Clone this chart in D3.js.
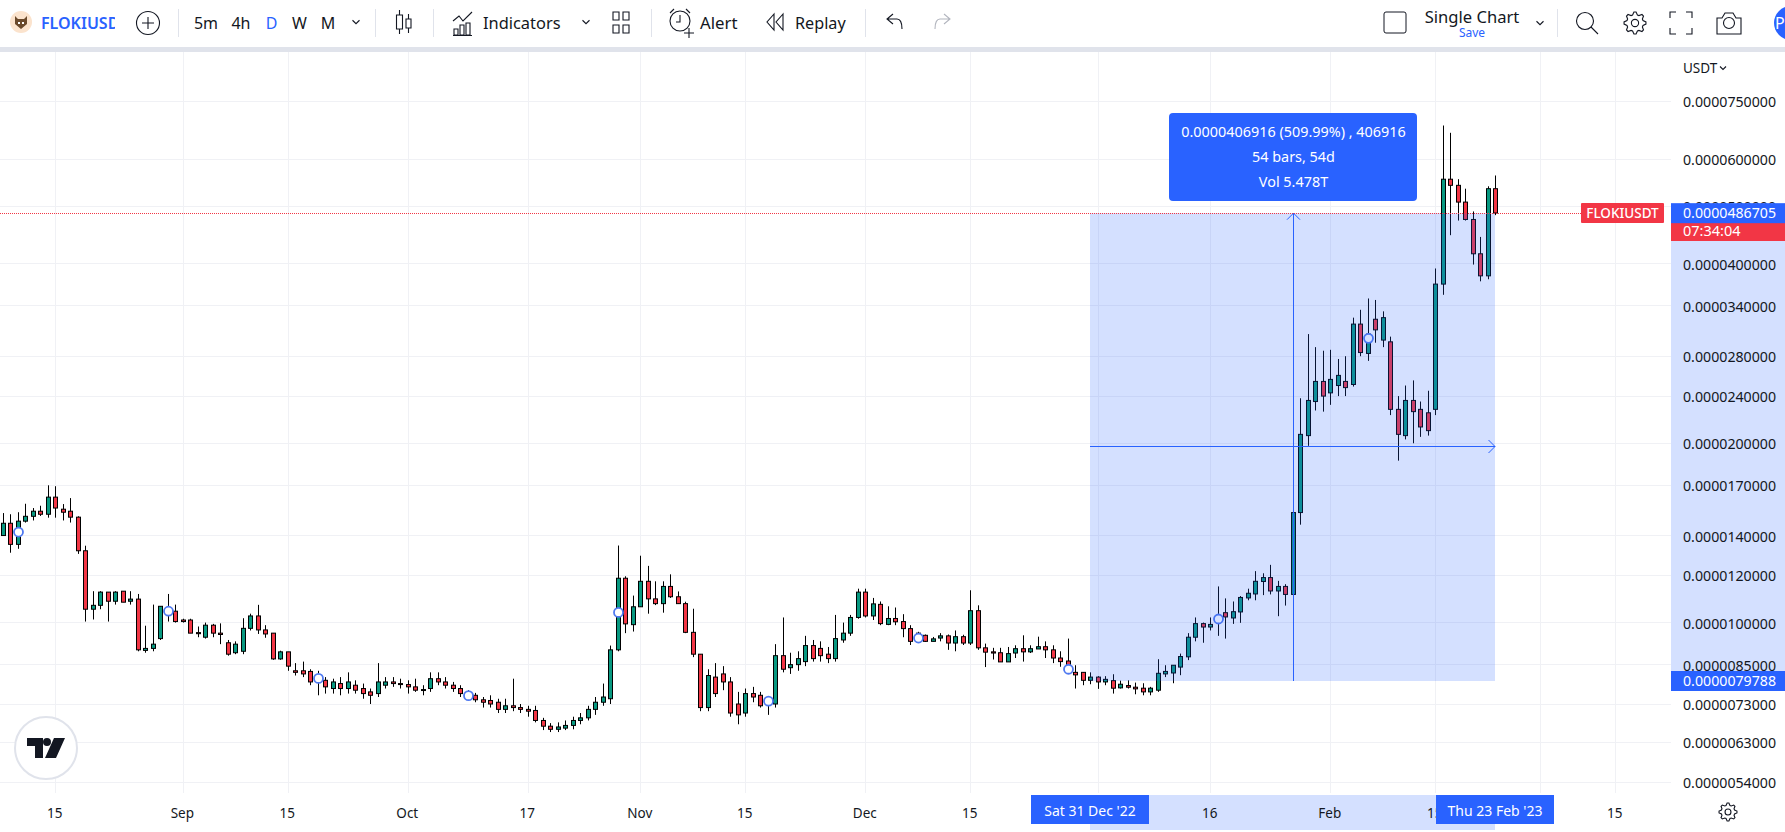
<!DOCTYPE html>
<html>
<head>
<meta charset="utf-8">
<title>FLOKIUSDT</title>
<script src="https://cdn.jsdelivr.net/npm/d3@7"></script>
<style>
  html, body { margin: 0; padding: 0; background: #fff; overflow: hidden; }
  svg { display: block; font-family: "Noto Sans", sans-serif; }
</style>
</head>
<body>
<svg id="chart" width="1785" height="832"></svg>
<script>
// prices are in millionths of USDT, the axis prints them back as 0.00000...
var unit = 1e-6;

var firstBar = new Date(Date.UTC(2022, 7, 8));
var lastBar = new Date(Date.UTC(2023, 1, 23));

var opens = [
  14.0,14.68,13.53,14.8,15.08,15.38,15.2,16.24,15.5,15.38,
  15.03,13.2,10.53,10.69,11.25,10.86,11.29,10.86,10.95,8.98,
  9.05,9.4,10.3,10.45,10.1,10.1,9.62,9.45,9.9,9.6,
  9.25,8.9,8.95,9.78,10.26,9.72,9.6,8.69,8.93,8.3,
  8.3,8.28,8.05,8.0,7.75,7.9,7.75,7.85,7.75,7.65,
  7.6,7.85,7.95,7.9,7.87,7.8,7.7,7.75,8.05,7.95,
  7.85,7.75,7.6,7.55,7.42,7.4,7.35,7.15,7.25,7.2,
  7.15,7.12,6.85,6.7,6.62,6.65,6.72,6.85,6.92,7.15,
  7.35,7.45,9.0,11.87,9.92,10.63,11.73,10.96,10.76,11.5,
  11.05,10.76,9.63,8.85,7.2,8.1,8.2,7.95,7.3,7.05,
  7.6,7.55,7.3,7.3,8.8,8.4,8.5,8.6,9.15,9.05,
  8.85,8.7,9.35,9.6,10.2,11.25,10.26,10.73,9.93,10.16,
  10.04,9.77,9.6,9.52,9.3,9.42,9.5,9.24,9.47,9.24,
  10.47,9.07,8.93,8.9,8.59,8.89,9.04,8.93,9.03,9.11,
  9.0,8.72,8.62,8.25,8.25,8.0,8.1,7.95,7.99,7.77,
  7.84,7.79,7.76,7.65,7.7,8.2,8.23,8.42,8.76,9.45,
  9.96,9.83,10.05,10.39,10.18,10.42,11.0,11.17,11.72,11.9,
  11.3,11.5,11.15,15.3,20.6,23.5,25.4,24.3,25.0,25.4,
  25.1,31.7,28.3,32.3,29.8,29.6,22.8,20.6,23.6,22.8,
  22.5,22.8,37,55.5,54.2,50.8,47.5,41.6,38.2,53.5
];
var highs = [
  15.27,15.2,15.32,15.83,15.57,15.71,17.0,16.94,15.81,16.18,
  15.08,13.46,11.29,11.29,11.25,11.29,11.29,11.29,11.17,9.88,
  10.72,10.65,11.17,10.72,10.15,10.15,9.85,10.0,9.95,9.97,
  9.35,9.3,10.17,10.35,10.71,9.9,9.6,8.97,8.93,8.55,
  8.6,8.35,8.3,8.1,8.05,8.1,8.25,8.0,7.9,7.75,
  8.55,8.1,8.1,8.05,8.0,8.05,7.85,8.25,8.25,8.1,
  7.95,7.85,7.7,7.62,7.5,7.55,7.45,7.45,8.05,7.3,
  7.25,7.25,6.92,6.78,6.8,6.85,6.95,7.05,7.25,7.5,
  7.9,9.15,13.47,11.96,11.1,12.95,12.45,11.73,11.73,12.05,
  11.28,10.84,10.55,8.85,8.35,8.55,8.45,8.1,7.65,7.75,
  7.8,7.65,7.5,9.2,10.2,8.9,8.95,9.5,9.35,9.3,
  9.1,10.3,10.0,10.3,11.4,11.4,11.0,10.85,10.65,10.6,
  10.33,9.9,9.65,9.55,9.46,9.6,9.55,9.7,9.54,11.33,
  10.69,9.22,9.07,9.07,9.1,9.16,9.52,9.16,9.47,9.3,
  9.16,8.95,9.4,8.48,8.25,8.25,8.13,8.13,8.19,7.99,
  8.0,7.93,7.91,7.8,8.68,8.48,8.48,8.87,9.6,10.2,
  10.0,10.2,11.5,10.98,10.85,11.08,11.4,12.2,12.1,12.5,
  11.75,11.6,15.4,23.8,30.5,29,28.6,28.7,27.7,28,
  32.5,33.5,35,34.8,33.3,30.2,24,25,25.5,23.5,
  24.5,39.3,68.3,66.4,55.5,53.5,49,44.4,54,56.3
];
var lows = [
  13.98,13.1,13.3,14.72,14.84,15.1,15.0,15.0,14.84,14.72,
  13.04,10.04,10.12,10.53,10.04,10.72,10.82,10.72,8.95,8.9,
  8.95,9.35,10.04,10.0,10.0,9.6,9.45,9.4,9.45,9.2,
  8.8,8.85,8.85,9.7,9.57,9.43,8.66,8.66,8.3,8.15,
  8.1,7.85,7.55,7.6,7.6,7.55,7.6,7.6,7.45,7.3,
  7.5,7.75,7.8,7.75,7.6,7.65,7.55,7.65,7.85,7.75,
  7.65,7.5,7.45,7.35,7.2,7.2,7.05,7.05,7.1,7.05,
  6.95,6.8,6.6,6.55,6.55,6.6,6.62,6.75,6.85,7.0,
  7.25,7.3,8.95,9.6,9.66,10.63,10.35,10.7,10.39,11.0,
  10.76,9.6,8.75,7.1,7.1,7.5,7.7,6.95,6.75,6.95,
  7.35,7.2,7.0,7.2,8.25,8.2,8.3,8.45,8.6,8.6,
  8.55,8.6,9.25,9.5,10.15,10.2,10.1,9.9,9.9,9.9,
  9.45,9.17,9.3,9.28,9.3,9.3,9.0,8.95,9.17,9.17,
  9.0,8.42,8.67,8.59,8.59,8.72,8.6,8.89,9.03,8.72,
  8.55,8.43,8.2,7.75,7.85,7.88,7.74,7.85,7.6,7.75,
  7.75,7.58,7.55,7.55,7.65,8.1,7.91,8.16,8.65,9.3,
  9.25,9.7,9.5,9.4,9.95,9.99,10.9,10.9,11.12,11.15,
  10.25,10.68,11.1,14.6,19.8,22.7,22.6,23.2,24,24,
  24.9,28,27.5,29.5,29,22.3,18.7,20.3,20,20.5,
  20.6,22.3,35.5,44.7,47.3,47.3,39.9,37.4,37.7,48.3
];
var closes = [
  14.68,13.53,14.8,15.08,15.38,15.2,16.24,15.57,15.32,15.03,
  13.2,10.53,10.69,11.25,10.86,11.25,10.82,10.95,9.0,9.05,
  9.2,10.65,10.45,10.04,10.04,9.6,9.58,9.9,9.6,9.55,
  8.85,9.2,9.78,10.26,9.72,9.57,8.69,8.93,8.45,8.25,
  8.2,7.95,8.15,7.8,7.95,7.75,7.95,7.7,7.6,7.55,
  7.95,7.95,7.9,7.87,7.8,7.7,7.72,8.05,7.95,7.85,
  7.75,7.6,7.55,7.42,7.35,7.3,7.15,7.25,7.2,7.15,
  7.1,6.85,6.7,6.62,6.68,6.72,6.85,6.92,7.15,7.35,
  7.5,9.0,11.87,9.95,10.63,11.73,10.96,10.76,11.5,11.05,
  10.76,9.63,8.85,7.2,8.15,7.6,7.95,7.05,7.0,7.6,
  7.5,7.25,7.35,8.8,8.35,8.5,8.7,9.15,8.7,8.8,
  8.7,9.4,9.6,10.2,11.25,10.26,10.75,9.96,10.16,10.03,
  9.77,9.3,9.4,9.3,9.39,9.5,9.24,9.47,9.24,10.47,
  9.07,8.92,8.89,8.59,8.87,9.04,8.93,9.04,9.11,9.0,
  8.72,8.6,8.35,8.17,8.0,8.1,7.95,8.03,7.76,7.88,
  7.79,7.74,7.65,7.76,8.22,8.28,8.48,8.77,9.45,9.96,
  9.83,9.93,10.2,10.22,10.43,11.02,11.2,11.73,11.9,11.3,
  11.5,11.15,15.3,20.7,23.6,25.4,24.0,25.6,26.0,24.8,
  31.7,28.4,30.5,31.0,32.5,22.8,20.7,23.6,22.6,21.3,
  21.0,37,55.5,54.2,50.8,47.5,41.6,38.2,53.5,48.7
];

// hollow circles that sit on every 20th bar
var markerBars = [2,22,42,62,82,102,122,142,162,182];
var markerPrices = [14.19,10.45,8.06,7.54,10.4,7.38,9.42,8.35,10.14,30.0];

var priceTicks = [75,60,50,40,34,28,24,20,17,14,12,10,8.5,7.3,6.3,5.4];

// Jan and Mar have a grid line but the range labels cover their text
var timeTicks = [
  ["2022-08-15","15"],["2022-09-01","Sep"],["2022-09-15","15"],["2022-10-01","Oct"],
  ["2022-10-17","17"],["2022-11-01","Nov"],["2022-11-15","15"],["2022-12-01","Dec"],
  ["2022-12-15","15"],["2023-01-01",""],["2023-01-16","16"],["2023-02-01","Feb"],
  ["2023-02-15","15"],["2023-03-01",""],["2023-03-11","15"]
];

var lastPrice = 48.6705;
var rangeLow = 7.9788;
var rangeStartLabel = "Sat 31 Dec '22";
var rangeEndLabel = "Thu 23 Feb '23";
var rangeStart = new Date(Date.UTC(2022, 11, 31));
var rangeLines = ["0.0000406916 (509.99%) , 406916", "54 bars, 54d", "Vol 5.478T"];

var w = 1785, h = 832;
var paneRight = 1671, paneTop = 52, paneBottom = 793;
var ink = "#131722", blue = "#2962ff", redC = "#f23645", greenC = "#089981", gridC = "#f0f1f5";
var tint = "rgba(41,98,255,0.2)";

var svg = d3.select("#chart");
var dates = d3.utcDay.range(firstBar, d3.utcDay.offset(lastBar, 1));
var tickDate = d3.utcParse("%Y-%m-%d");

var xScale = d3.scaleUtc().domain([firstBar, lastBar]).range([3.3, 1495.8]);
var yScale = d3.scaleLog().domain([75, 5.4]).range([101.3, 782]);
var px = v => Math.floor(v) + 0.5;

svg.append("rect").attr("width", w).attr("height", h).attr("fill", "#fff");

// ---- grid, drawn with the axis generators
var gridX = svg.append("g").attr("transform", "translate(0," + paneBottom + ")")
  .call(d3.axisBottom(xScale).tickValues(timeTicks.map(d => tickDate(d[0]))).tickSize(-(paneBottom - paneTop)).tickFormat(""));
var gridY = svg.append("g").attr("transform", "translate(" + paneRight + ",0)")
  .call(d3.axisLeft(yScale).tickValues(priceTicks).tickSize(paneRight).tickFormat(""));
[gridX, gridY].forEach(g => {
  g.select(".domain").remove();
  g.selectAll("line").attr("stroke", gridC);
});
gridX.selectAll(".tick").attr("transform", function(d) { return "translate(" + px(xScale(d)) + ",0)"; });
gridY.selectAll(".tick").attr("transform", function(d) { return "translate(0," + px(yScale(d)) + ")"; });

// ---- candles
var candles = svg.append("g").selectAll("g").data(dates).enter().append("g");
candles.append("line")
  .attr("x1", (d) => px(xScale(d)))
  .attr("x2", (d) => px(xScale(d)))
  .attr("y1", (d, i) => yScale(highs[i]))
  .attr("y2", (d, i) => yScale(lows[i]))
  .attr("stroke", "#000");
candles.append("rect")
  .attr("x", (d) => px(xScale(d)) - 2)
  .attr("width", 4)
  .attr("y", (d, i) => yScale(Math.max(opens[i], closes[i])))
  .attr("height", (d, i) => Math.max(1, yScale(Math.min(opens[i], closes[i])) - yScale(Math.max(opens[i], closes[i]))))
  .attr("fill", (d, i) => closes[i] >= opens[i] ? greenC : redC)
  .attr("stroke", "#000");

// ---- markers
svg.append("g").selectAll("circle").data(markerBars).enter().append("circle")
  .attr("cx", d => px(xScale(dates[d])))
  .attr("cy", (d, i) => yScale(markerPrices[i]))
  .attr("r", 4.5)
  .attr("fill", "#fff")
  .attr("stroke", "#4f79f0")
  .attr("stroke-width", 1.8);

// ---- measure tool
var mx0 = Math.floor(xScale(rangeStart)), mx1 = Math.floor(xScale(lastBar));
var my0 = yScale(lastPrice), my1 = yScale(rangeLow);
var mxMid = px(xScale(dates[172])), myMid = px(yScale(Math.sqrt(lastPrice * rangeLow))) - 1;

svg.append("rect").attr("x", mx0).attr("y", my0).attr("width", mx1 - mx0).attr("height", my1 - my0).attr("fill", tint);

var measure = svg.append("g").attr("fill", "none").attr("stroke", blue);
measure.append("line").attr("x1", mxMid).attr("x2", mxMid).attr("y1", my1).attr("y2", my0);
measure.append("path").attr("d", "M" + (mxMid - 6.5) + "," + (my0 + 6.5) + "L" + mxMid + "," + my0 + "L" + (mxMid + 6.5) + "," + (my0 + 6.5));
measure.append("line").attr("x1", mx0).attr("x2", mx1).attr("y1", myMid).attr("y2", myMid);
measure.append("path").attr("d", "M" + (mx1 - 6.5) + "," + (myMid - 6.5) + "L" + mx1 + "," + myMid + "L" + (mx1 - 6.5) + "," + (myMid + 6.5));

// last price dotted line
svg.append("line").attr("x1", 0).attr("x2", 1581).attr("y1", px(my0)).attr("y2", px(my0))
  .attr("stroke", redC).attr("stroke-dasharray", "1 1");

// measure text box
svg.append("rect").attr("x", 1169).attr("y", 113).attr("width", 248).attr("height", 88).attr("rx", 4).attr("fill", blue);
svg.append("g").selectAll("text").data(rangeLines).enter().append("text")
  .attr("x", mxMid).attr("y", (d, i) => 137 + i * 25)
  .attr("text-anchor", "middle").attr("fill", "#fff").attr("font-size", 14.4)
  .text(d => d);

// ---- price axis
svg.append("rect").attr("x", paneRight).attr("y", my0).attr("width", w - paneRight).attr("height", my1 - my0).attr("fill", tint);

var yAxis = svg.append("g").attr("transform", "translate(" + paneRight + ",1)")
  .call(d3.axisRight(yScale).tickValues(priceTicks).tickSize(0).tickPadding(12).tickFormat(d => (d * unit).toFixed(10)));
yAxis.select(".domain").remove();
yAxis.selectAll("text").attr("fill", ink).attr("font-size", 14.2).attr("font-family", "Noto Sans");

svg.append("text").attr("x", 1683).attr("y", 73).attr("fill", ink).attr("font-size", 13.5).text("USDT");
chevron(1723, 68, 3, ink);

// ---- labels on the price axis
svg.append("rect").attr("x", 1581).attr("y", 203).attr("width", 83).attr("height", 20).attr("rx", 1).attr("fill", redC);
svg.append("text").attr("x", 1622.5).attr("y", 218).attr("text-anchor", "middle").attr("fill", "#fff")
  .attr("font-size", 13.5).attr("font-weight", 500).text("FLOKIUSDT");
svg.append("rect").attr("x", paneRight).attr("y", 222).attr("width", w - paneRight).attr("height", 19).attr("fill", redC);
svg.append("text").attr("x", 1683).attr("y", 236).attr("fill", "#fff").attr("font-size", 14.5).text("07:34:04");
axisTag(my0, (lastPrice * unit).toFixed(10));
axisTag(my1, (rangeLow * unit).toFixed(10));

function axisTag(y, label) {
  svg.append("rect").attr("x", paneRight).attr("y", y - 10).attr("width", w - paneRight).attr("height", 20).attr("fill", blue);
  svg.append("text").attr("x", 1683).attr("y", y + 5).attr("fill", "#fff").attr("font-size", 14.2).text(label);
}

// ---- time axis
svg.append("rect").attr("x", mx0).attr("y", 795).attr("width", mx1 - mx0).attr("height", 35).attr("fill", tint);

var xAxis = svg.append("g").attr("transform", "translate(-1.5," + 808 + ")")
  .call(d3.axisBottom(xScale).tickValues(timeTicks.map(d => tickDate(d[0]))).tickSize(0).tickPadding(0)
    .tickFormat((d, i) => timeTicks[i][1]));
xAxis.select(".domain").remove();
xAxis.selectAll("text").attr("fill", ink).attr("font-size", 13.5).attr("font-family", "Noto Sans");

[[mx0, rangeStartLabel], [mx1, rangeEndLabel]].forEach(function(t) {
  svg.append("rect").attr("x", t[0] - 59).attr("y", 795).attr("width", 118).attr("height", 29).attr("fill", blue);
  svg.append("text").attr("x", t[0]).attr("y", 816).attr("text-anchor", "middle").attr("fill", "#fff")
    .attr("font-size", 14).text(t[1]);
});

// ---- toolbar
svg.append("rect").attr("x", 0).attr("y", 0).attr("width", w).attr("height", 47).attr("fill", "#fff");
svg.append("rect").attr("x", 0).attr("y", 47).attr("width", w).attr("height", 5).attr("fill", "#e0e3eb");

function chevron(x, y, s, c) {
  svg.append("path").attr("d", "M" + (x - s) + "," + (y - s / 2) + "L" + x + "," + (y + s / 2) + "L" + (x + s) + "," + (y - s / 2))
    .attr("fill", "none").attr("stroke", c).attr("stroke-width", 1.1);
}
function label(x, y, text, size, color, anchor, weight) {
  svg.append("text").attr("x", x).attr("y", y).attr("font-size", size).attr("fill", color)
    .attr("text-anchor", anchor || "start").attr("font-weight", weight || 400).text(text);
}
function icon(x, y, d, c) {
  svg.append("path").attr("transform", "translate(" + x + "," + y + ")").attr("d", d)
    .attr("fill", "none").attr("stroke", c || ink).attr("stroke-width", 1.1);
}

// symbol badge
svg.append("circle").attr("cx", 21).attr("cy", 22).attr("r", 11).attr("fill", "#fbe3cd");
svg.append("path").attr("d", "M15,16L18,19H24L27,16L27,24L21,29L15,24Z").attr("fill", "#6b4a2c");
svg.append("path").attr("d", "M18,22h2v2h-2zM22,22h2v2h-2z").attr("fill", "#fff");
svg.append("clipPath").attr("id", "sym").append("rect").attr("x", 38).attr("y", 5).attr("width", 77).attr("height", 32);
svg.append("text").attr("x", 41).attr("y", 29).attr("font-size", 16).attr("font-weight", 600).attr("fill", blue)
  .attr("clip-path", "url(#sym)").text("FLOKIUSDT");

svg.append("circle").attr("cx", 148).attr("cy", 23).attr("r", 11.5).attr("fill", "none").attr("stroke", ink).attr("stroke-width", 1.1);
icon(148, 23, "M-6,0H6M0,-6V6");

[178, 375, 433, 651, 865, 1557].forEach(x => {
  svg.append("line").attr("x1", x + 0.5).attr("x2", x + 0.5).attr("y1", 9).attr("y2", 37).attr("stroke", "#e0e3eb");
});

label(206, 29, "5m", 16, ink, "middle");
label(241, 29, "4h", 16, ink, "middle");
label(271.5, 29, "D", 16, blue, "middle");
label(299.5, 29, "W", 16, ink, "middle");
label(328, 29, "M", 16, ink, "middle");
chevron(356, 22, 3.5, ink);

icon(399, 10, "M0.5,0V5M-2.5,5H3.5V19H-2.5ZM0.5,19V24M9.5,4V9M7,9H12V18H7ZM9.5,18V23");

icon(453, 11, "M0,10L6,5L10,10L19,1M1,24V18H5V24ZM7,24V14H11V24ZM13,24V12H17V24ZM0,24.5H19");
label(483, 29, "Indicators", 16.4, ink);
chevron(586, 22, 3.5, ink);
icon(611, 12, "M2,0H8V8H2ZM12,0H18V8H12ZM2,13H8V21H2ZM12,13H18V21H12Z");

// alert
svg.append("circle").attr("cx", 680).attr("cy", 21).attr("r", 10).attr("fill", "none").attr("stroke", ink).attr("stroke-width", 1.1);
icon(680, 21, "M0,-6V1H-4M-10,-8L-6,-12M10,-8L6,-12M4,12H14M9,7V17");
label(700, 29, "Alert", 16.8, ink);

// replay
icon(767, 14, "M7,0L0,8L7,16ZM16,0L9,8L16,16Z");
label(795, 29, "Replay", 16.2, ink);

icon(887, 14, "M6,0L0,5L6,10M0,5H10C13,5 15,8 15,15");
icon(935, 14, "M9,0L15,5L9,10M15,5H5C2,5 0,8 0,15", "#b2b5be");

svg.append("rect").attr("x", 1384).attr("y", 12).attr("width", 22).attr("height", 21).attr("rx", 2).attr("fill", "none").attr("stroke", ink);
label(1472, 23, "Single Chart", 16.6, ink, "middle");
label(1472, 37, "Save", 12, blue, "middle");
chevron(1540, 23, 3.5, ink);

// search, settings, fullscreen, camera
svg.append("circle").attr("cx", 1585).attr("cy", 21).attr("r", 8.5).attr("fill", "none").attr("stroke", ink).attr("stroke-width", 1.1);
icon(1591, 27, "M0,0L7,7");
gear(1635, 23, 11);
icon(1670, 12, "M0,6V0H6M16,0H22V6M22,16V22H16M6,22H0V16");
icon(1717, 13, "M0,5H5L8,0H16L19,5H24V21H0Z");
svg.append("circle").attr("cx", 1729).attr("cy", 23).attr("r", 5.5).attr("fill", "none").attr("stroke", ink).attr("stroke-width", 1.1);
svg.append("circle").attr("cx", 1791).attr("cy", 23).attr("r", 17).attr("fill", blue);
label(1775, 29, "P", 16, "#fff");

function gear(x, y, r) {
  var pts = d3.range(32).map(i => {
    var a = (i - 0.5) * Math.PI / 16;
    var rad = (i % 4 < 2) ? r : r * 0.76;
    return [x + rad * Math.cos(a), y + rad * Math.sin(a)];
  });
  svg.append("path").attr("d", d3.line().curve(d3.curveLinearClosed)(pts)).attr("fill", "none").attr("stroke", ink).attr("stroke-width", 1.1);
  svg.append("circle").attr("cx", x).attr("cy", y).attr("r", r * 0.33).attr("fill", "none").attr("stroke", ink).attr("stroke-width", 1.1);
}
gear(1728, 812, 9);

// watermark logo
svg.append("circle").attr("cx", 46).attr("cy", 748).attr("r", 31).attr("fill", "#fff").attr("stroke", "#e0e3eb").attr("stroke-width", 2);
svg.append("path").attr("transform", "translate(27,738)")
  .attr("d", "M0,0H16V20H8V8H0ZM20,8A4,4 0 1 0 20,0A4,4 0 1 0 20,8ZM27,0H38L29,20H18Z")
  .attr("fill", ink);
</script>
</body>
</html>
